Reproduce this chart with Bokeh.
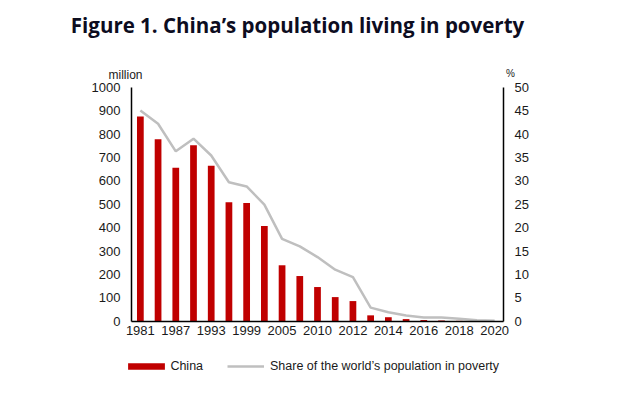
from bokeh.plotting import figure
from bokeh.models import (Range1d, LinearAxis, FixedTicker, Label, Legend, LegendItem,
                          ColumnDataSource)
from bokeh.embed import file_html
from bokeh.resources import INLINE

years = ["1981", "1984", "1987", "1990", "1993", "1996", "1999", "2002", "2005", "2008",
         "2010", "2011", "2012", "2013", "2014", "2015", "2016", "2017", "2018", "2019", "2020"]
china_million = [875, 778, 656, 752, 664, 508, 505, 407, 239, 193,
                 146, 103, 86, 25, 17, 9, 5, 3, 1.5, 0.5, 0]
world_share_pct = [45.0, 42.2, 36.3, 39.0, 35.4, 29.7, 28.8, 24.9, 17.6, 16.0,
                   13.7, 11.0, 9.4, 2.9, 1.9, 1.2, 0.8, 0.8, 0.5, 0.2, 0.1]
left_ticks = [0, 100, 200, 300, 400, 500, 600, 700, 800, 900, 1000]
right_ticks = [0, 5, 10, 15, 20, 25, 30, 35, 40, 45, 50]
shown_year_labels = ["1981", "1987", "1993", "1999", "2005", "2010", "2012",
                     "2014", "2016", "2018", "2020"]

idx = list(range(len(years)))
src = ColumnDataSource(dict(x=idx, china=china_million, share=world_share_pct))

RED = "#c00000"
GRAY = "#bfbfbf"
TXT = "#1a1a1a"
FONT = "Liberation Sans"

W, H = 630, 391
# plot area (pixels): left 131, right 503, top 86.7, bottom 320.7
FL, FR, FT, FB = 131.0, 503.0, 86.7, 320.7
n = len(years)
xpx = (FR - FL) / n
x0 = -0.5 - FL / xpx
x1 = x0 + W / xpx
ypx = (FB - FT) / 1000.0
y0 = -(H - FB) / ypx
y1 = FB / ypx

p = figure(width=W, height=H, output_backend="svg", toolbar_location=None,
           x_range=Range1d(x0, x1), y_range=Range1d(y0, y1),
           min_border=0, min_border_left=0, min_border_right=0,
           min_border_top=0, min_border_bottom=0, x_axis_location=None, y_axis_location=None)
p.outline_line_color = None
p.grid.visible = False
p.background_fill_color = "white"
p.border_fill_color = "white"
p.extra_y_ranges = {"pct": Range1d(y0 / 20.0, y1 / 20.0)}

bars = p.vbar(x="x", top="china", width=0.38, source=src, fill_color=RED, line_color=None)
line = p.line(x="x", y="share", source=src, y_range_name="pct", line_color=GRAY,
              line_width=2.5)

def style_axis(ax, standoff):
    ax.axis_line_color = "black"
    ax.axis_line_width = 1.5
    ax.major_tick_line_color = None
    ax.minor_tick_line_color = None
    ax.major_tick_out = 0
    ax.major_tick_in = 0
    ax.minor_tick_out = 0
    ax.minor_tick_in = 0
    ax.major_label_text_font = FONT
    ax.major_label_text_font_size = "13px"
    ax.major_label_text_color = TXT
    ax.major_label_standoff = standoff

xa = LinearAxis(ticker=FixedTicker(ticks=[years.index(y) for y in shown_year_labels]),
                major_label_overrides={i: y for i, y in enumerate(years)},
                fixed_location=0, bounds=(-0.5, n - 0.5))
style_axis(xa, 5)
p.add_layout(xa, "below")

ya = LinearAxis(ticker=FixedTicker(ticks=left_ticks), fixed_location=-0.5,
                bounds=(left_ticks[0], left_ticks[-1]))
style_axis(ya, 11)
p.add_layout(ya, "left")

ra = LinearAxis(y_range_name="pct", ticker=FixedTicker(ticks=right_ticks),
                fixed_location=n - 0.5, bounds=(right_ticks[0], right_ticks[-1]))
style_axis(ra, 11)
p.add_layout(ra, "right")

p.add_layout(Label(x=297, y=H - 24, x_units="screen", y_units="screen",
                   text="Figure 1. China\u2019s population living in poverty",
                   text_font="Open Sans", text_font_style="bold", text_font_size="20.5px",
                   text_color="#0d0d1f", text_align="center", text_baseline="middle"))
p.add_layout(Label(x=125, y=H - 74, x_units="screen", y_units="screen", text="million",
                   text_font=FONT, text_font_size="12px", text_color=TXT,
                   text_align="center", text_baseline="middle"))
p.add_layout(Label(x=510, y=H - 73, x_units="screen", y_units="screen", text="%",
                   text_font=FONT, text_font_size="10px", text_color=TXT,
                   text_align="center", text_baseline="middle"))

leg1 = Legend(items=[LegendItem(label="China", renderers=[bars])],
              location=(123.4, 15), glyph_width=46, glyph_height=8, label_standoff=1,
              padding=0, margin=0, border_line_alpha=0, background_fill_alpha=0,
              label_text_font=FONT, label_text_font_size="12.5px", label_text_color=TXT,
              label_height=20)
leg2 = Legend(items=[LegendItem(label="Share of the world\u2019s population in poverty",
                                renderers=[line])],
              location=(227, 15), glyph_width=37, glyph_height=8, label_standoff=6,
              padding=0, margin=0, border_line_alpha=0, background_fill_alpha=0,
              label_text_font=FONT, label_text_font_size="12.5px", label_text_color=TXT,
              label_height=20)
p.add_layout(leg1)
p.add_layout(leg2)

open("out.html", "w").write(file_html(p, INLINE))
